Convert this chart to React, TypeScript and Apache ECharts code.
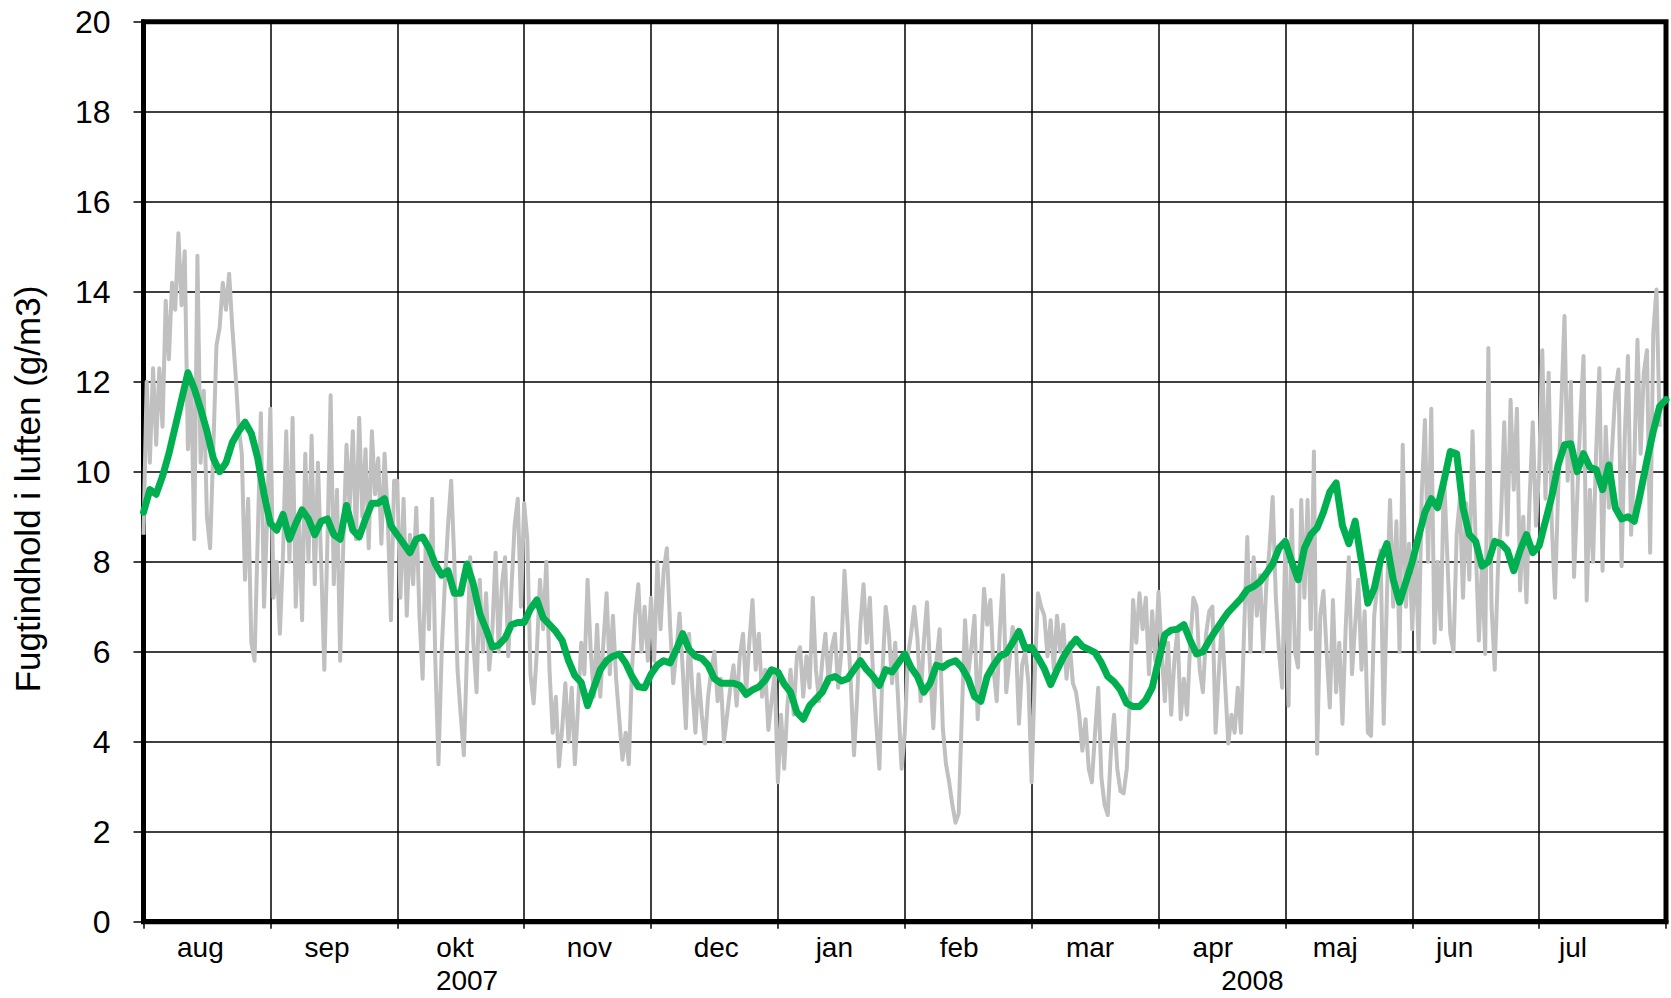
import { useEffect, useRef } from 'react';
import * as echarts from 'echarts';

// Month names and where each one sits along the x axis (x is measured in months from 1 Aug 2007)
const monthLabels = ['aug', 'sep', 'okt', 'nov', 'dec', 'jan', 'feb', 'mar', 'apr', 'maj', 'jun', 'jul'];
const monthLabelPositions = [0.448, 1.447, 2.455, 3.514, 4.514, 5.445, 6.429, 7.46, 8.428, 9.393, 10.335, 11.267];
const yearLabels = ['2007', '2008'];
const yearLabelPositions = [2.55, 8.74];

// Measured humidity (g/m3), 40 readings per month
const grayAug = [8.6, 12.0, 10.2, 12.3, 10.6, 12.3, 11.0, 13.8, 12.5, 14.2, 13.6, 15.3, 13.7, 14.9, 10.5, 12.0, 8.5, 14.8, 10.2, 11.8, 9.0, 8.3, 10.5, 12.8, 13.2, 14.2, 13.6, 14.4, 13.2, 12.2, 11.0, 10.4, 7.6, 9.4, 6.2, 5.8, 8.5, 11.3, 7.0, 9.0];
const graySep = [11.4, 7.2, 8.0, 6.4, 8.2, 10.9, 8.0, 11.2, 7.0, 9.0, 6.7, 10.4, 8.0, 10.8, 7.5, 10.2, 8.0, 5.6, 8.5, 11.7, 7.5, 9.6, 5.8, 8.4, 10.6, 9.2, 10.9, 8.5, 11.2, 9.0, 10.5, 8.3, 10.9, 9.5, 10.3, 8.4, 10.4, 9.0, 6.7, 9.8];
const grayOkt = [9.8, 7.2, 9.4, 6.8, 8.6, 7.5, 9.2, 6.8, 5.4, 8.5, 6.5, 9.4, 5.8, 3.5, 6.0, 7.5, 8.8, 9.8, 8.0, 5.6, 4.6, 3.7, 6.0, 8.1, 6.2, 5.1, 7.6, 6.0, 7.3, 5.6, 6.5, 8.2, 6.0, 7.5, 8.1, 5.9, 7.4, 8.8, 9.4, 7.0];
const grayNov = [9.3, 8.5, 5.5, 4.85, 6.0, 7.6, 6.5, 8.0, 5.6, 4.2, 5.0, 3.45, 4.3, 5.3, 4.0, 5.2, 3.5, 4.8, 6.2, 5.5, 7.6, 6.0, 5.0, 6.6, 5.0, 6.2, 7.3, 5.5, 6.8, 5.4, 4.5, 3.6, 4.2, 3.5, 5.6, 6.8, 7.5, 6.0, 7.0, 5.8];
const grayDec = [7.2, 5.8, 8.0, 6.5, 7.8, 8.3, 6.6, 5.3, 6.0, 6.85, 5.6, 4.3, 6.4, 5.2, 4.2, 5.5, 4.6, 3.96, 5.0, 5.6, 6.0, 4.9, 5.4, 4.0, 4.6, 5.2, 5.7, 4.8, 5.9, 6.4, 5.1, 6.2, 7.15, 5.6, 6.4, 5.0, 5.6, 4.26, 4.9, 5.5];
const grayJan = [3.1, 4.6, 3.4, 4.8, 5.6, 4.6, 5.9, 6.1, 5.0, 5.9, 5.2, 7.2, 5.6, 4.9, 5.8, 6.4, 5.3, 6.1, 6.4, 5.2, 6.0, 7.8, 6.6, 5.3, 3.7, 5.0, 6.6, 7.5, 6.2, 7.2, 5.5, 4.4, 3.4, 5.6, 7.0, 6.4, 5.3, 6.2, 4.8, 3.4];
const grayFeb = [4.2, 5.9, 6.4, 7.0, 6.3, 4.9, 6.2, 7.1, 5.6, 4.3, 5.8, 6.5, 4.3, 3.5, 3.1, 2.6, 2.2, 2.4, 4.6, 6.7, 5.5, 6.1, 6.8, 4.5, 5.8, 7.4, 6.6, 7.15, 5.6, 4.9, 6.5, 7.7, 5.1, 5.8, 6.55, 6.3, 4.4, 5.7, 6.0, 5.3];
const grayMar = [3.1, 5.5, 7.3, 7.0, 6.8, 5.9, 6.7, 5.6, 6.8, 6.0, 6.6, 5.4, 6.2, 5.3, 5.1, 4.6, 3.8, 4.5, 3.4, 3.1, 4.2, 5.2, 3.2, 2.6, 2.37, 3.8, 4.6, 3.4, 2.9, 2.85, 3.4, 5.0, 7.15, 6.2, 7.3, 6.5, 7.2, 5.5, 6.9, 5.8];
const grayApr = [7.33, 6.0, 4.9, 6.2, 4.6, 5.8, 6.5, 4.5, 5.4, 4.6, 6.2, 7.2, 7.0, 5.6, 5.1, 6.4, 6.9, 7.0, 4.2, 5.5, 6.7, 5.3, 3.96, 4.6, 4.2, 5.2, 4.2, 6.5, 8.55, 6.0, 8.1, 6.8, 7.7, 6.0, 7.5, 8.3, 9.44, 7.2, 6.0, 5.2];
const grayMaj = [8.5, 4.8, 9.15, 6.0, 5.65, 9.37, 7.2, 9.37, 6.5, 10.45, 3.73, 6.8, 7.35, 6.0, 4.76, 7.15, 5.1, 6.2, 4.4, 6.5, 8.1, 5.5, 6.6, 7.6, 5.6, 6.9, 4.2, 4.13, 6.8, 7.5, 8.25, 4.4, 7.2, 9.37, 7.0, 8.9, 6.0, 10.6, 7.0, 8.4];
const grayJun = [6.5, 8.4, 6.0, 9.5, 11.15, 8.0, 11.4, 6.2, 8.0, 6.5, 10.0, 8.2, 6.4, 6.0, 8.6, 9.4, 7.2, 9.3, 7.6, 10.9, 8.4, 6.25, 8.0, 5.95, 12.75, 7.0, 5.6, 7.8, 9.0, 11.1, 8.6, 11.6, 9.6, 11.4, 7.36, 9.0, 7.1, 9.4, 11.1, 8.8];
const grayJul = [10.0, 12.7, 9.4, 12.2, 8.8, 7.2, 9.6, 11.5, 13.46, 9.8, 12.0, 7.66, 9.4, 11.2, 12.57, 7.14, 9.6, 8.0, 10.5, 12.3, 7.8, 11.0, 9.2, 10.5, 11.75, 12.27, 7.9, 10.8, 12.57, 8.6, 10.2, 12.93, 10.4, 12.2, 12.7, 8.2, 13.1, 14.05, 11.0];

// Running mean (g/m3), 20 values per month
const meanAug = [9.1, 9.6, 9.5, 9.9, 10.4, 11.0, 11.6, 12.2, 11.85, 11.4, 10.9, 10.3, 10.0, 10.2, 10.65, 10.9, 11.1, 10.85, 10.3, 9.5];
const meanSep = [8.85, 8.7, 9.05, 8.5, 8.85, 9.15, 8.95, 8.6, 8.9, 8.95, 8.6, 8.5, 9.25, 8.7, 8.55, 8.95, 9.3, 9.3, 9.4, 8.8];
const meanOkt = [8.6, 8.4, 8.2, 8.5, 8.55, 8.3, 7.95, 7.7, 7.8, 7.3, 7.3, 7.95, 7.5, 6.85, 6.5, 6.1, 6.15, 6.3, 6.6, 6.65];
const meanNov = [6.65, 6.95, 7.15, 6.75, 6.6, 6.45, 6.25, 5.8, 5.47, 5.32, 4.8, 5.2, 5.6, 5.8, 5.9, 5.95, 5.75, 5.45, 5.22, 5.2];
const meanDec = [5.5, 5.7, 5.8, 5.75, 6.05, 6.4, 6.05, 5.9, 5.85, 5.7, 5.4, 5.3, 5.3, 5.3, 5.25, 5.05, 5.15, 5.22, 5.37, 5.6];
const meanJan = [5.55, 5.28, 5.1, 4.65, 4.5, 4.8, 4.95, 5.1, 5.4, 5.45, 5.35, 5.4, 5.6, 5.8, 5.6, 5.45, 5.25, 5.6, 5.55, 5.75];
const meanFeb = [5.95, 5.65, 5.45, 5.1, 5.3, 5.7, 5.65, 5.75, 5.8, 5.65, 5.4, 5.0, 4.9, 5.45, 5.7, 5.9, 5.97, 6.2, 6.45, 6.07];
const meanMar = [6.1, 5.87, 5.62, 5.27, 5.59, 5.88, 6.1, 6.28, 6.12, 6.05, 5.98, 5.75, 5.45, 5.33, 5.15, 4.85, 4.78, 4.78, 4.93, 5.2];
const meanApr = [5.8, 6.38, 6.48, 6.5, 6.6, 6.25, 5.95, 6.0, 6.25, 6.47, 6.68, 6.88, 7.03, 7.18, 7.38, 7.45, 7.56, 7.74, 7.95, 8.3];
const meanMaj = [8.45, 8.0, 7.6, 8.3, 8.6, 8.75, 9.1, 9.55, 9.75, 8.8, 8.4, 8.9, 8.0, 7.08, 7.4, 8.05, 8.4, 7.6, 7.1, 7.55];
const meanJun = [8.0, 8.55, 9.1, 9.4, 9.2, 9.8, 10.45, 10.4, 9.2, 8.6, 8.45, 7.9, 8.0, 8.45, 8.4, 8.25, 7.8, 8.25, 8.6, 8.2];
const meanJul = [8.35, 8.9, 9.45, 10.15, 10.6, 10.62, 10.0, 10.4, 10.1, 10.05, 9.6, 10.15, 9.2, 8.95, 9.0, 8.9, 9.55, 10.25, 10.9, 11.45, 11.6];

const measured = [
  ...grayAug, ...graySep, ...grayOkt, ...grayNov, ...grayDec, ...grayJan,
  ...grayFeb, ...grayMar, ...grayApr, ...grayMaj, ...grayJun, ...grayJul,
];
const runningMean = [
  ...meanAug, ...meanSep, ...meanOkt, ...meanNov, ...meanDec, ...meanJan,
  ...meanFeb, ...meanMar, ...meanApr, ...meanMaj, ...meanJun, ...meanJul,
];

const FONT = '"Liberation Sans", Arial, Helvetica, sans-serif';
const GRID_LEFT = 143.5;
const GRID_TOP = 21.7;
const GRID_WIDTH = 1522.5;
const GRID_HEIGHT = 900;

// Name of the month whose label sits at the given axis position
function monthName(value: number): string {
  let best = 0;
  for (let i = 1; i < monthLabelPositions.length; i++) {
    if (Math.abs(monthLabelPositions[i] - value) < Math.abs(monthLabelPositions[best] - value)) best = i;
  }
  return monthLabels[best];
}

export default function App() {
  const ref = useRef<HTMLDivElement>(null);

  useEffect(() => {
    if (!ref.current) return;
    const chart = echarts.init(ref.current, undefined, { renderer: 'svg' });

    const monthWidth = GRID_WIDTH / 12;

    chart.setOption({
      animation: false,
      backgroundColor: '#fff',
      textStyle: { fontFamily: FONT },
      grid: {
        left: GRID_LEFT,
        top: GRID_TOP,
        width: GRID_WIDTH,
        height: GRID_HEIGHT,
        show: true,
        borderColor: '#000',
        borderWidth: 5,
        backgroundColor: 'transparent',
      },
      xAxis: [
        {
          type: 'value',
          min: 0,
          max: 12,
          interval: 1,
          position: 'bottom',
          axisLine: { show: true, onZero: false, lineStyle: { color: '#000', width: 5 } },
          axisTick: { show: true, length: 7, lineStyle: { color: '#000', width: 1.5 } },
          axisLabel: { show: false },
          splitLine: { show: true, lineStyle: { color: '#000', width: 1.5 } },
        },
        {
          type: 'value',
          min: 0,
          max: 12,
          position: 'bottom',
          axisLine: { show: false },
          axisTick: { show: false },
          splitLine: { show: false },
          axisLabel: {
            customValues: monthLabelPositions,
            formatter: (v: number) => monthName(v),
            fontSize: 28,
            color: '#000',
            margin: 12,
            fontFamily: FONT,
          },
        },
      ],
      yAxis: {
        type: 'value',
        min: 0,
        max: 20,
        interval: 2,
        axisLine: { show: true, lineStyle: { color: '#000', width: 5 } },
        axisTick: { show: true, length: 10, lineStyle: { color: '#000', width: 1.5 } },
        axisLabel: { fontSize: 32, color: '#000', margin: 33, fontFamily: FONT },
        splitLine: { show: true, lineStyle: { color: '#000', width: 1.5 } },
      },
      series: [
        {
          name: 'Målt',
          type: 'line',
          xAxisIndex: 0,
          data: measured.map((v, i) => [i / 40, v]),
          symbol: 'none',
          lineStyle: { color: '#c0c0c0', width: 4, join: 'round' },
          z: 2,
        },
        {
          name: 'Middel',
          type: 'line',
          xAxisIndex: 0,
          data: runningMean.map((v, i) => [i / 20, v]),
          symbol: 'none',
          lineStyle: { color: '#00b050', width: 7, cap: 'round', join: 'round' },
          z: 3,
        },
      ],
      graphic: [
        {
          type: 'text',
          x: 27,
          y: 489,
          rotation: Math.PI / 2,
          style: {
            text: 'Fugtindhold i luften (g/m3)',
            font: `35px ${FONT}`,
            fill: '#000',
            align: 'center',
            verticalAlign: 'middle',
            textAlign: 'center',
            textVerticalAlign: 'middle',
          },
        },
        ...yearLabels.map((label, i) => ({
          type: 'text',
          x: GRID_LEFT + yearLabelPositions[i] * monthWidth,
          y: 980,
          style: {
            text: label,
            font: `28px ${FONT}`,
            fill: '#000',
            align: 'center',
            verticalAlign: 'middle',
            textAlign: 'center',
            textVerticalAlign: 'middle',
          },
        })),
      ],
    });

    return () => chart.dispose();
  }, []);

  return (
    <div
      ref={ref}
      style={{ position: 'absolute', left: 0, top: 0, width: 1671, height: 998, background: '#fff' }}
    />
  );
}
